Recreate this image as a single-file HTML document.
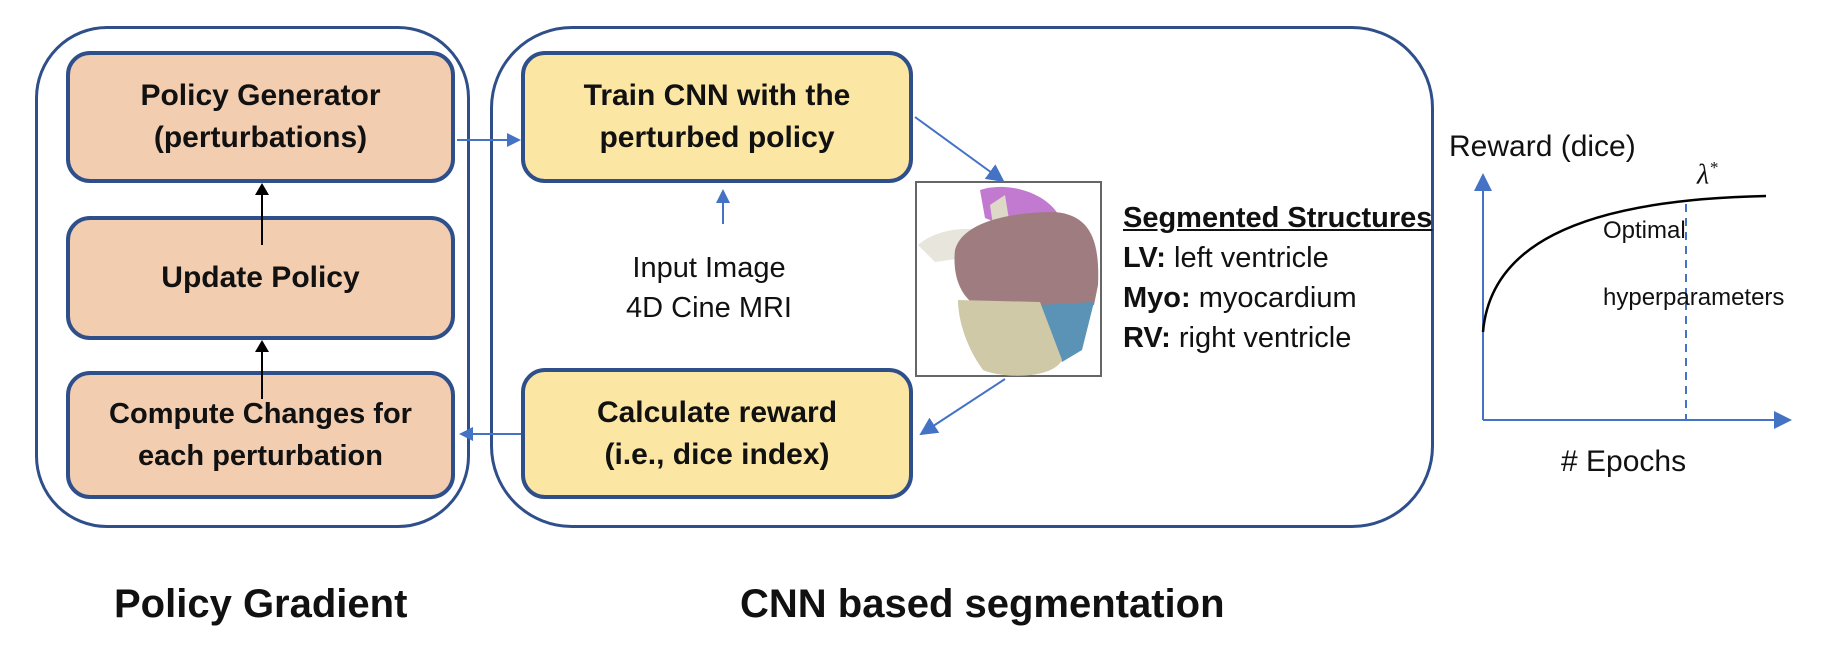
<!DOCTYPE html>
<html><head><style>
body{margin:0;width:1828px;height:650px;background:#fff;overflow:hidden;position:relative;font-family:"Liberation Sans",sans-serif}
.b{position:absolute;box-sizing:border-box;border:4px solid #2f4f8a;border-radius:24px;display:flex;align-items:center;justify-content:center;text-align:center;font-weight:bold;font-size:30px;line-height:42px;color:#111;white-space:nowrap}
.o{background:#f2cdb0}.y{background:#fbe6a3}
.t{position:absolute;color:#111;white-space:nowrap}
</style></head><body>
<div style="position:absolute;left:35px;top:26px;width:435px;height:502px;border:3px solid #2f4f8a;border-radius:72px;box-sizing:border-box"></div>
<div style="position:absolute;left:490px;top:26px;width:944px;height:502px;border:3px solid #2f4f8a;border-radius:82px;box-sizing:border-box"></div>
<div class="b o" style="left:66px;top:51px;width:389px;height:132px">Policy Generator<br>(perturbations)</div>
<div class="b o" style="left:66px;top:216px;width:389px;height:124px">Update Policy</div>
<div class="b o" style="left:66px;top:371px;width:389px;height:128px;font-size:29px">Compute Changes for<br>each perturbation</div>
<div class="b y" style="left:521px;top:51px;width:392px;height:132px">Train CNN with the<br>perturbed policy</div>
<div class="b y" style="left:521px;top:368px;width:392px;height:131px">Calculate reward<br>(i.e., dice index)</div>
<div class="t" style="left:626px;top:248px;font-size:29px;line-height:40px;text-align:center">Input Image<br>4D Cine MRI</div>
<div style="position:absolute;left:915px;top:181px;width:187px;height:196px;border:2px solid #666;box-sizing:border-box;background:#fff"></div>
<svg width="1828" height="650" style="position:absolute;left:0;top:0">
<defs>
<marker id="bl" markerWidth="14" markerHeight="14" refX="12" refY="7" orient="auto" markerUnits="userSpaceOnUse"><path d="M0,0L14,7L0,14z" fill="#4472c4"/></marker>
<marker id="bk" markerWidth="12" markerHeight="14" refX="10" refY="7" orient="auto" markerUnits="userSpaceOnUse"><path d="M0,0L12,7L0,14z" fill="#000"/></marker>
<marker id="big" markerWidth="18" markerHeight="18" refX="16" refY="9" orient="auto" markerUnits="userSpaceOnUse"><path d="M0,0L18,9L0,18z" fill="#4472c4"/></marker>
</defs>
<g stroke="#4472c4" stroke-width="2" fill="none">
<line x1="457" y1="140" x2="519" y2="140" marker-end="url(#bl)"/>
<line x1="521" y1="434" x2="461" y2="434" marker-end="url(#bl)"/>
<line x1="915" y1="117" x2="1003" y2="181" marker-end="url(#big)"/>
<line x1="1005" y1="379" x2="921" y2="434" marker-end="url(#big)"/>
<line x1="723" y1="224" x2="723" y2="191" marker-end="url(#bl)"/>
<line x1="1483" y1="420" x2="1483" y2="175" marker-end="url(#big)"/>
<line x1="1483" y1="420" x2="1790" y2="420" marker-end="url(#big)"/>
<line x1="1686" y1="204" x2="1686" y2="420" stroke-dasharray="8,6"/>
</g>
<g stroke="#000" stroke-width="2">
<line x1="262" y1="245" x2="262" y2="185" marker-end="url(#bk)"/>
<line x1="262" y1="399" x2="262" y2="342" marker-end="url(#bk)"/>
</g>
<path d="M1483,332 C1490,250 1570,200 1766,196" stroke="#000" stroke-width="2.5" fill="none"/>
<g>
<path d="M980,190 C1010,180 1050,195 1060,218 L1020,232 L985,218z" fill="#c27ad0"/>
<path d="M918,245 C935,230 965,225 992,232 L985,255 L935,262z" fill="#e8e6dc"/>
<path d="M990,205 L1005,195 L1012,238 L995,238z" fill="#ddd8c8"/>
<path d="M955,250 C962,222 1010,212 1055,212 C1090,215 1100,240 1098,285 L1094,305 L1040,310 L985,310 C962,302 952,278 955,250z" fill="#9f7c80"/>
<path d="M1040,305 L1094,302 L1082,350 L1062,362z" fill="#5a93b5"/>
<path d="M958,300 L1040,302 L1062,360 C1052,380 1000,378 983,370 C968,350 958,322 958,300z" fill="#cfc9a8"/>
</g>
</svg>
<div class="t" style="left:1123px;top:198px;font-size:29px;line-height:40px">
<b style="text-decoration:underline">Segmented Structures</b><br><b>LV:</b> left ventricle<br><b>Myo:</b> myocardium<br><b>RV:</b> right ventricle</div>
<div class="t" style="left:1449px;top:130px;font-size:30px">Reward (dice)</div>
<div class="t" style="left:1697px;top:158px;font-size:28px;font-family:'Liberation Serif',serif;font-style:italic">λ<sup style="font-size:17px">*</sup></div>
<div class="t" style="left:1603px;top:197px;font-size:24px;line-height:67px">Optimal<br>hyperparameters</div>
<div class="t" style="left:1561px;top:445px;font-size:30px"># Epochs</div>
<div class="t" style="left:114px;top:582px;font-size:40px;font-weight:bold">Policy Gradient</div>
<div class="t" style="left:740px;top:582px;font-size:40px;font-weight:bold">CNN based segmentation</div>
</body></html>
